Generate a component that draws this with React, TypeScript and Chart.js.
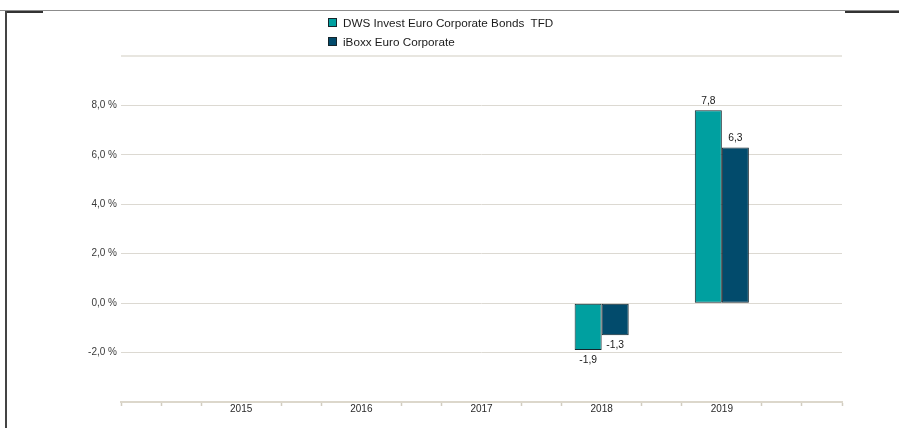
import React, { useEffect, useRef } from "react";
import { Chart, registerables } from "chart.js";

Chart.register(...registerables);

const categories = ["2015", "2016", "2017", "2018", "2019"];
const dwsValues: (number | null)[] = [null, null, null, -1.9, 7.8];
const iboxxValues: (number | null)[] = [null, null, null, -1.3, 6.3];
const seriesNames = ["DWS Invest Euro Corporate Bonds  TFD", "iBoxx Euro Corporate"];
const seriesColors = ["#00a0a0", "#024b6c"];
const yTickValues = [-2, 0, 2, 4, 6, 8];

// each year occupies 3 minor slots on the axis; 19 slots total
const SLOTS_PER_YEAR = 3;
const slotCount = (categories.length + 1) * SLOTS_PER_YEAR + 1;
const slotLabels: string[] = Array.from({ length: slotCount }, () => "");
categories.forEach((c, i) => (slotLabels[(i + 1) * SLOTS_PER_YEAR] = c));
const toSlots = (vals: (number | null)[]) => {
  const out: (number | null)[] = Array.from({ length: slotCount }, () => null);
  vals.forEach((v, i) => (out[(i + 1) * SLOTS_PER_YEAR] = v));
  return out;
};

const fmt = (v: number) => v.toFixed(1).replace(".", ",");

const FONT = "'Liberation Sans', Arial, sans-serif";
const BAR_BORDER = "#15252c";

const valueLabels = {
  id: "valueLabels",
  afterDatasetsDraw(chart: any) {
    const ctx = chart.ctx;
    ctx.save();
    ctx.font = `10.3px ${FONT}`;
    ctx.fillStyle = "#1a1a1a";
    ctx.textAlign = "center";
    chart.data.datasets.forEach((ds: any, di: number) => {
      const meta = chart.getDatasetMeta(di);
      meta.data.forEach((el: any, i: number) => {
        const v = ds.data[i];
        if (v === null || v === undefined) return;
        if (v >= 0) {
          ctx.textBaseline = "alphabetic";
          ctx.fillText(fmt(v), el.x, el.y - 6);
        } else {
          ctx.textBaseline = "top";
          ctx.fillText(fmt(v), el.x, el.y + 5);
        }
      });
    });
    ctx.restore();
  },
};

export default function App() {
  const ref = useRef<HTMLCanvasElement>(null);

  useEffect(() => {
    if (!ref.current) return;
    const chart = new Chart(ref.current, {
      type: "bar",
      data: {
        labels: slotLabels,
        datasets: [
          {
            label: seriesNames[0],
            data: toSlots(dwsValues),
            backgroundColor: seriesColors[0],
            borderColor: BAR_BORDER,
            borderWidth: 1,
            borderSkipped: false,
          },
          {
            label: seriesNames[1],
            data: toSlots(iboxxValues),
            backgroundColor: seriesColors[1],
            borderColor: BAR_BORDER,
            borderWidth: 1,
            borderSkipped: false,
          },
        ],
      },
      options: {
        responsive: false,
        animation: false,
        categoryPercentage: 1.35,
        barPercentage: 1.0,
        layout: { padding: { top: 56, right: 57, bottom: 0, left: 0 } },
        plugins: {
          legend: { display: false },
          tooltip: { enabled: false },
        },
        scales: {
          x: {
            type: "category",
            offset: false,
            afterFit: (s: any) => {
              s.height = 26;
            },
            grid: {
              offset: false,
              drawOnChartArea: false,
              drawTicks: true,
              tickLength: 4,
              tickWidth: 1.5,
              tickColor: (c: any) => (slotLabels[c.index] ? "rgba(0,0,0,0)" : "#d2cdc0"),
            },
            border: { display: true, color: "#dcd7cb", width: 2 },
            ticks: {
              autoSkip: false,
              maxRotation: 0,
              minRotation: 0,
              padding: -3,
              color: "#2a2a2a",
              font: { family: FONT, size: 10 },
            },
          },
          y: {
            min: -4,
            max: 10,
            afterFit: (s: any) => {
              s.width = 121;
            },
            ticks: {
              stepSize: 2,
              padding: 4,
              color: "#3a3a3a",
              font: { family: FONT, size: 10 },
              callback: (v: any) => (yTickValues.includes(Number(v)) ? `${fmt(Number(v))} %` : ""),
            },
            border: { display: false },
            grid: {
              drawTicks: false,
              color: (c: any) =>
                c.tick && c.tick.value === 10
                  ? "#e8e6e0"
                  : c.tick && c.tick.value === -4
                  ? "rgba(0,0,0,0)"
                  : "#dcd9d2",
              lineWidth: (c: any) => (c.tick && c.tick.value === 10 ? 2 : 1),
            },
          },
        },
      },
      plugins: [valueLabels],
    });
    return () => chart.destroy();
  }, []);

  return (
    <div
      style={{
        position: "absolute",
        left: 0,
        top: 0,
        width: 899,
        height: 428,
        overflow: "hidden",
        background: "#fff",
      }}
    >
      <canvas ref={ref} width={899} height={428} style={{ display: "block" }} />
      <div style={{ position: "absolute", left: 0, top: 10, width: 899, height: 1, background: "#8c8c8c" }} />
      <div style={{ position: "absolute", left: 5, top: 11, width: 38, height: 2, background: "#333" }} />
      <div style={{ position: "absolute", left: 845, top: 11, width: 54, height: 2, background: "#333" }} />
      <div style={{ position: "absolute", left: 5, top: 11, width: 2, height: 417, background: "#444" }} />
      <div
        style={{
          position: "absolute",
          left: 328,
          top: 12.5,
          fontFamily: FONT,
          fontSize: 11.7,
          color: "#1a1a1a",
        }}
      >
        {seriesNames.map((n, i) => (
          <div key={n} style={{ display: "flex", alignItems: "center", height: 19.5 }}>
            <span
              style={{
                display: "inline-block",
                width: 9,
                height: 9,
                boxSizing: "border-box",
                border: `1px solid ${BAR_BORDER}`,
                background: seriesColors[i],
                marginRight: 6,
              }}
            />
            <span style={{ whiteSpace: "pre" }}>{n}</span>
          </div>
        ))}
      </div>
    </div>
  );
}
